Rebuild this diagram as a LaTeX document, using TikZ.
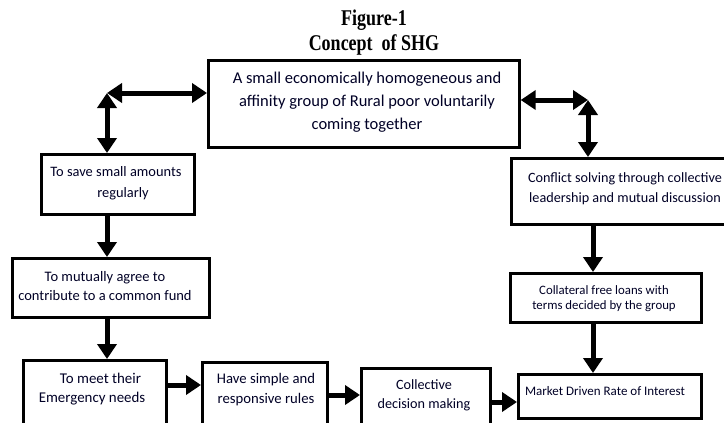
\documentclass[tikz,border=0pt]{standalone}
\usepackage{fontspec}
\setmainfont{Carlito}
\newfontfamily\titlefont{Liberation Serif}
\usetikzlibrary{arrows.meta}
\tikzset{
  box/.style={draw=black, line width=2.7pt, rectangle, inner sep=0pt, anchor=north west},
  txt/.style={inner sep=0pt, align=center, text=black!85!blue},
  arr/.style={line width=5pt, -{Triangle[length=15pt,width=19pt]}},
  darr/.style={line width=5pt, {Triangle[length=15pt,width=19pt]}-{Triangle[length=15pt,width=19pt]}},
  ttl/.style={inner sep=0pt, font=\titlefont\bfseries\fontsize{18}{20}\selectfont}
}
\newcommand{\boxat}[5]{\node[box, minimum width=#4pt, minimum height=#5pt] (#1) at (#2,#3) {};}
\begin{document}
\begin{tikzpicture}[x=1pt,y=-1pt]
\fill[white] (0,0) rectangle (724,423);
\useasboundingbox (0,0) rectangle (724,423);
% titles
\node[ttl] (t1) at (374,20) {\scalebox{1}[1.25]{Figure-1}};
\node[ttl] (t2) at (374,45) {\scalebox{1}[1.25]{Concept\ \ of SHG}};
% boxes
\boxat{top}{207}{59}{311}{87}
\boxat{save}{40}{153}{153}{60}
\boxat{mutual}{11}{257}{197}{59}
\boxat{emer}{22}{359}{143}{80}
\boxat{simple}{201}{361}{125}{80}
\boxat{coll}{360}{367}{129}{80}
\boxat{market}{517}{373}{183}{44}
\boxat{collat}{509}{272}{191}{49}
\boxat{conflict}{510}{157}{230}{66}
% texts
\node[txt, font=\fontsize{16.5}{23}\selectfont] (topt) at (367,102) {A small economically homogeneous and\\affinity group of Rural poor voluntarily\\coming together};
\node[txt, font=\fontsize{14.4}{21}\selectfont] (savet) at (116,183) {To save small amounts\\\hspace*{14pt}regularly};
\node[txt, font=\fontsize{14.5}{18.5}\selectfont] (mutualt) at (105,286) {To mutually agree to\\contribute to a common fund};
\node[txt, font=\fontsize{14.9}{19}\selectfont] (emert) at (92,389) {\hspace*{17pt}To meet their\\Emergency needs};
\node[txt, font=\fontsize{14.7}{20}\selectfont] (simplet) at (266,390) {Have simple and\\responsive rules};
\node[txt, font=\fontsize{14.2}{19}\selectfont] (collt) at (424,395.5) {Collective\\decision making};
\node[txt, font=\fontsize{13}{15}\selectfont] (markett) at (605,391) {Market Driven Rate of Interest};
\node[txt, font=\fontsize{12.8}{15.5}\selectfont] (collatt) at (604,298.5) {Collateral free loans with\\terms decided by the group};
\node[txt, font=\fontsize{14.2}{20}\selectfont] (conflictt) at (625,189) {Conflict solving through collective\\leadership and mutual discussion};
% corners
\coordinate (c1) at (107,93);
\coordinate (c2) at (588,100);
\coordinate (c3) at (593,0);
% connectors
\draw[darr] (top.west |- c1) -- (c1);
\draw[darr] (c1) -- (save.north -| c1);
\draw[darr] (top.east |- c2) -- (c2);
\draw[darr] (c2) -- (conflict.north -| c2);
\draw[arr] (save.south -| c1) -- (mutual.north -| c1);
\draw[arr] (mutual.south -| c1) -- (emer.north -| c1);
\draw[arr] (emer.east |- 0,385) -- (simple.west |- 0,385);
\draw[arr] (simple.east |- 0,395) -- (coll.west |- 0,395);
\draw[arr] (coll.east |- 0,402) -- (market.west |- 0,402);
\draw[arr] (conflict.south -| c3) -- (collat.north -| c3);
\draw[arr] (collat.south -| c3) -- (market.north -| c3);
\end{tikzpicture}
\end{document}
